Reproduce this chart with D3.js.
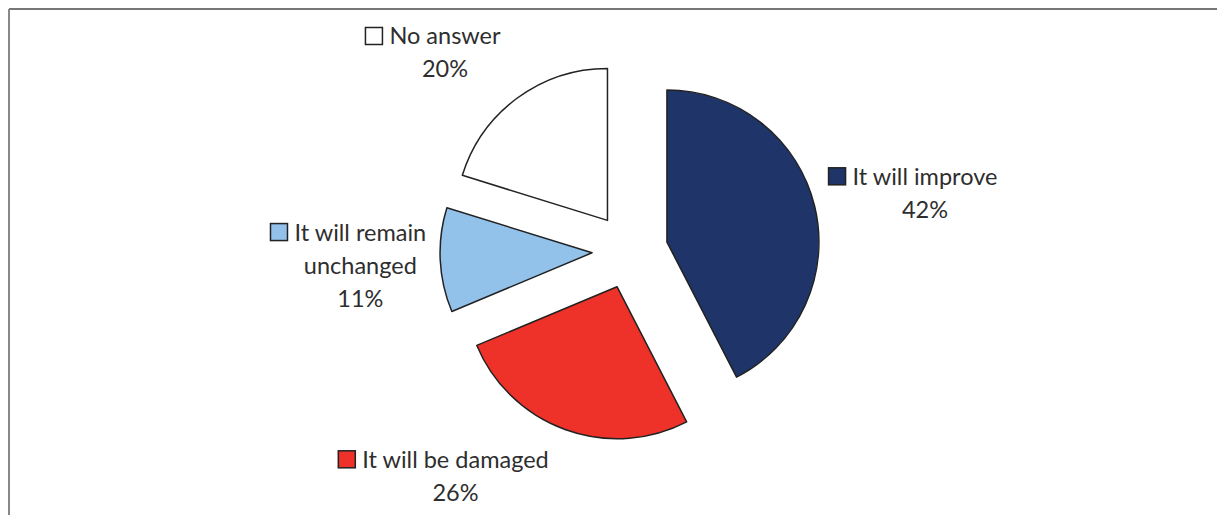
<!DOCTYPE html>
<html>
<head>
<meta charset="utf-8">
<script src="https://cdn.jsdelivr.net/npm/d3@7"></script>
<style>
  body { margin: 0; background: #fff; }
  svg { display: block; }
</style>
</head>
<body>
<div id="chart"></div>
<script>
// Dades del gràfic
const categories = ["It will improve", "It will be damaged", "It will remain unchanged", "No answer"];
const values = [42, 26, 11, 20];
const labelLines = [["It will improve"], ["It will be damaged"], ["It will remain", "unchanged"], ["No answer"]];
const colors = ["#1f3468", "#ee3129", "#92c1e9", "#ffffff"];

// Configuració
const W = 1217, H = 515;
const cx = 630, cy = 251;
const radius = 152;
const explode = 38;
const labelR = 285;
// petits ajustos de les etiquetes respecte a la bisectriu
const labelNudge = [[18, 1], [-77, -51], [15, -24], [-16, 23]];
const lineH = 33;

const svg = d3.select("#chart").append("svg")
    .attr("width", W)
    .attr("height", H);

// marc
svg.append("line")
    .attr("x1", 9).attr("x2", W).attr("y1", 9).attr("y2", 9)
    .attr("stroke", "#4a4a4a").attr("stroke-width", 1.5);
svg.append("line")
    .attr("x1", 9).attr("x2", 9).attr("y1", 9).attr("y2", H)
    .attr("stroke", "#888").attr("stroke-width", 2);

const data = categories.map((c, i) => ({ cat: c, value: values[i], lines: labelLines[i], color: colors[i] }));

const pie = d3.pie().sort(null).value(d => d.value);
const arc = d3.arc().innerRadius(0).outerRadius(radius);
const arcs = pie(data);

const mid = d => (d.startAngle + d.endAngle) / 2;

const g = svg.append("g").attr("transform", `translate(${cx},${cy})`);

g.selectAll("path")
    .data(arcs)
    .enter()
    .append("path")
    .attr("transform", d => `translate(${Math.sin(mid(d)) * explode},${-Math.cos(mid(d)) * explode})`)
    .attr("d", arc)
    .attr("fill", d => d.data.color)
    .attr("stroke", "#222")
    .attr("stroke-width", 1.5)
    .attr("stroke-linejoin", "round");

// Etiquetes
const labels = g.selectAll("g.label")
    .data(arcs)
    .enter()
    .append("g")
    .attr("class", "label")
    .attr("transform", (d, i) => {
        const a = mid(d);
        const x = Math.sin(a) * labelR + labelNudge[i][0];
        const y = -Math.cos(a) * labelR + labelNudge[i][1];
        return `translate(${x},${y})`;
    });

labels.each(function(d) {
    const lbl = d3.select(this);
    const lines = d.data.lines.concat([d.data.value + "%"]);
    const t = lbl.append("text")
        .attr("text-anchor", "middle")
        .attr("font-family", "Lato, 'Open Sans', sans-serif")
        .attr("font-size", "23.5px")
        .attr("fill", "#2e2e2e");
    lines.forEach((s, k) => {
        t.append("tspan").attr("x", 0).attr("y", k * lineH).text(s);
    });
    const w = t.select("tspan").node().getComputedTextLength();
    lbl.append("rect")
        .attr("x", -w / 2 - 24)
        .attr("y", -17)
        .attr("width", 17)
        .attr("height", 17)
        .attr("fill", d.data.color)
        .attr("stroke", "#222")
        .attr("stroke-width", 1.5);
});
</script>
</body>
</html>
